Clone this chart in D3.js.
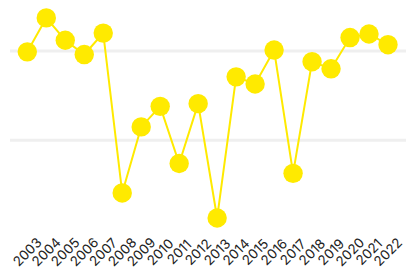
<!DOCTYPE html>
<html>
  <head>
    <meta charset="utf-8" />
    <title>Yearly line</title>
    <script src="https://d3js.org/d3.v7.min.js"></script>
    <style>
      body { margin: 0; background: #fff; }
      svg { display: block; }
    </style>
  </head>
  <body>
    <svg width="406" height="271" id="chart"></svg>
    <script>
      // data (arbitrary units)
      const years = ["2003","2004","2005","2006","2007","2008","2009","2010","2011","2012",
                     "2013","2014","2015","2016","2017","2018","2019","2020","2021","2022"];
      const values = [19.9, 23.7, 21.2, 19.6, 22.0, 4.1, 11.5, 13.8, 7.4, 14.1,
                      1.3, 17.1, 16.3, 20.1, 6.3, 18.8, 18.0, 21.5, 21.9, 20.7];
      const gridTicks = [10, 20];

      const data = years.map((y, i) => ({ year: y, value: values[i] }));

      const svg = d3.select("#chart");

      const x = d3.scalePoint()
        .domain(years)
        .range([27.3, 388]);

      const y = d3.scaleLinear()
        .domain([0, 25])
        .range([229.6, 6.3]);

      // faint gridlines
      svg.append("g")
        .selectAll("line")
        .data(gridTicks)
        .enter()
        .append("line")
        .attr("x1", 10)
        .attr("x2", 406)
        .attr("y1", d => y(d))
        .attr("y2", d => y(d))
        .attr("stroke", "#efefef")
        .attr("stroke-width", 3);

      // line
      const line = d3.line()
        .x(d => x(d.year))
        .y(d => y(d.value));

      svg.append("path")
        .datum(data)
        .attr("d", line)
        .attr("fill", "none")
        .attr("stroke", "#ffea00")
        .attr("stroke-width", 2);

      // dots
      svg.append("g")
        .selectAll("circle")
        .data(data)
        .enter()
        .append("circle")
        .attr("cx", d => x(d.year))
        .attr("cy", d => y(d.value))
        .attr("r", 9.7)
        .attr("fill", "#ffea00");

      // year labels
      svg.append("g")
        .selectAll("text")
        .data(years)
        .enter()
        .append("text")
        .attr("transform", d => "translate(" + x(d) + ",252) rotate(-45)")
        .attr("text-anchor", "middle")
        .attr("dy", "0.35em")
        .attr("font-family", "Inter, 'Noto Sans', sans-serif")
        .attr("font-size", 13.5)
        .attr("fill", "#222")
        .text(d => d);
    </script>
  </body>
</html>
